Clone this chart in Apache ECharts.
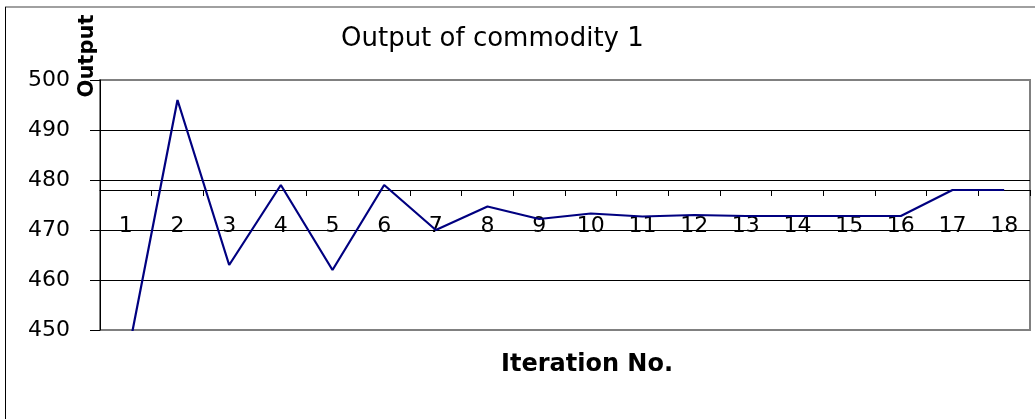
<!DOCTYPE html>
<html>
<head>
<meta charset="utf-8">
<script src="https://cdn.jsdelivr.net/npm/echarts@6/dist/echarts.min.js"></script>
<style>
  html, body { margin: 0; padding: 0; background: #fff; }
  #chart { width: 1035px; height: 419px; }
</style>
</head>
<body>
<div id="chart"></div>
<script>
const categories = ['1','2','3','4','5','6','7','8','9','10','11','12','13','14','15','16','17','18'];
const outputValues = [443, 496, 463, 479, 462, 479, 470, 474.7, 472.2, 473.3, 472.7, 473, 472.8, 472.8, 472.8, 472.8, 478, 478];
const yMin = 450, yMax = 500, yStep = 10;
const axisCross = 478;

const FONT = 'DejaVu Sans';
const chart = echarts.init(document.getElementById('chart'), null, { renderer: 'canvas' });

const gridTop = 80, gridHeight = 250;
const crossOffset = -gridHeight * (axisCross - yMin) / (yMax - yMin);

chart.setOption({
  animation: false,
  backgroundColor: '#fff',
  title: {
    text: 'Output of commodity 1',
    left: 336,
    top: 21,
    textStyle: { fontFamily: FONT, fontSize: 26, fontWeight: 'normal', color: '#000' }
  },
  grid: {
    left: 100, top: gridTop, width: 930, height: gridHeight,
    show: true, borderColor: '#808080', borderWidth: 2, backgroundColor: 'transparent'
  },
  xAxis: {
    type: 'category',
    data: categories,
    boundaryGap: true,
    position: 'bottom',
    offset: crossOffset,
    name: 'Iteration No.',
    nameLocation: 'middle',
    nameGap: 163,
    nameTextStyle: { fontFamily: FONT, fontSize: 24, fontWeight: 'bold', color: '#000', padding: [0, 0, 0, 44] },
    axisLine: { show: true, lineStyle: { color: '#000', width: 1 } },
    axisTick: { show: true, length: 6, alignWithLabel: false, lineStyle: { color: '#000' } },
    axisLabel: { fontFamily: FONT, fontSize: 22, color: '#000', margin: 25 },
    splitLine: { show: false }
  },
  yAxis: {
    type: 'value',
    min: yMin, max: yMax, interval: yStep,
    axisLine: { show: true, lineStyle: { color: '#000', width: 1 } },
    axisTick: { show: true, length: 10, lineStyle: { color: '#000' } },
    axisLabel: { fontFamily: FONT, fontSize: 22, color: '#000', margin: 30 },
    splitLine: { show: true, showMinLine: false, showMaxLine: false, lineStyle: { color: '#000', width: 1 } }
  },
  series: [{
    type: 'line',
    name: 'Output of commodity 1',
    data: outputValues,
    symbol: 'none',
    clip: true,
    lineStyle: { color: '#000080', width: 2.2 },
    itemStyle: { color: '#000080' }
  }],
  graphic: [
    { type: 'line', shape: { x1: 5, y1: 7, x2: 1035, y2: 7 }, style: { stroke: '#808080', lineWidth: 1.5 }, silent: true },
    { type: 'line', shape: { x1: 5.5, y1: 7, x2: 5.5, y2: 419 }, style: { stroke: '#000', lineWidth: 1 }, silent: true },
    { type: 'text', x: 88, y: 56, rotation: Math.PI / 2, silent: true,
      style: { text: 'Output', fontFamily: FONT, fontSize: 21, fontWeight: 'bold', fill: '#000', align: 'center', verticalAlign: 'middle' } }
  ]
});
</script>
</body>
</html>
